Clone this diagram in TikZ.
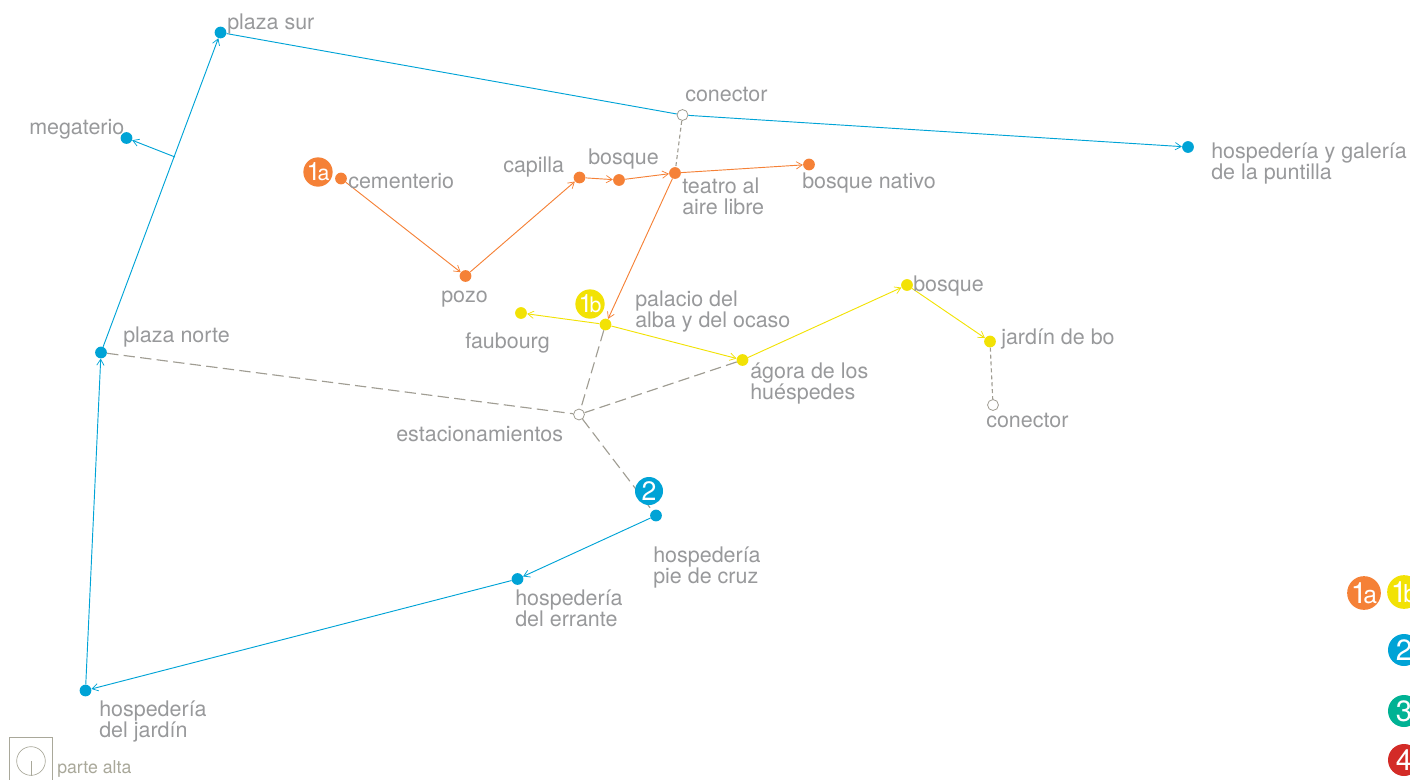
\documentclass[tikz,border=0pt]{standalone}
\usepackage{fontspec}
\setmainfont{TeX Gyre Heros}
\usetikzlibrary{arrows.meta}
\definecolor{cblue}{HTML}{00A3D6}
\definecolor{corange}{HTML}{F58137}
\definecolor{cyellow}{HTML}{F2E205}
\definecolor{cgreen}{HTML}{00B294}
\definecolor{cred}{HTML}{D32B27}
\definecolor{ctext}{HTML}{98999B}
\definecolor{cdash}{HTML}{A09D93}
\definecolor{cbase}{HTML}{A9A89A}
\newcommand{\onea}[2]{{\fontsize{#1}{#1}\selectfont 1}\kern-0.13em{\fontsize{#2}{#2}\selectfont a}}
\newcommand{\oneb}[2]{{\fontsize{#1}{#1}\selectfont 1}\kern-0.13em{\fontsize{#2}{#2}\selectfont b}}
\tikzset{
 x=0.75pt,y=-0.75pt,
 dot/.style={circle,fill=#1,draw=none,minimum size=8.8pt,inner sep=0pt},
 opendot/.style={circle,fill=white,draw=cdash,line width=0.6pt,minimum size=8.2pt,inner sep=0pt},
 lab/.style={anchor=base west,inner sep=0pt,text=ctext,font=\fontsize{16.1pt}{15.7pt}\selectfont},
 lab2/.style={lab,align=left},
 badge/.style={circle,fill=#1,draw=none,minimum size=21pt,inner sep=0pt,text=white,font=\fontsize{17pt}{17pt}\selectfont},
 bigbadge/.style={circle,fill=#1,draw=none,minimum size=24pt,inner sep=0pt,text=white,font=\fontsize{22pt}{22pt}\selectfont},
 conn/.style={draw=#1,line width=0.7pt},
 arr/.style={conn=#1,-{Straight Barb[length=4.5pt,width=5.5pt,line width=0.55pt]}},
 dashedconn/.style={draw=cdash,line width=0.85pt,dash pattern=on 8.5pt off 4pt},
 dottedconn/.style={draw=cdash,line width=0.85pt,dash pattern=on 3pt off 2.2pt},
}
\begin{document}
\begin{tikzpicture}
\useasboundingbox (0,0) rectangle (1410,779);
\clip (0,0) rectangle (1410,779);
% blue dots
\node[dot=cblue] (psur) at (220.5,32.5) {};
\node[dot=cblue] (mega) at (126.5,138) {};
\node[dot=cblue] (pnorte) at (101,352.5) {};
\node[dot=cblue] (hjardin) at (85.5,690.5) {};
\node[dot=cblue] (herrante) at (517.5,579) {};
\node[dot=cblue] (hcruz) at (656,515.5) {};
\node[dot=cblue] (hgaleria) at (1188,147) {};
% orange dots
\node[dot=corange] (cem) at (341,178.5) {};
\node[dot=corange] (pozo) at (465.5,276) {};
\node[dot=corange] (capilla) at (579.5,177.5) {};
\node[dot=corange] (bosqueo) at (619,180) {};
\node[dot=corange] (teatro) at (675,173) {};
\node[dot=corange] (bnativo) at (809,164.5) {};
% yellow dots
\node[dot=cyellow] (faub) at (521,313) {};
\node[dot=cyellow] (palacio) at (605.5,324.5) {};
\node[dot=cyellow] (agora) at (742.5,360) {};
\node[dot=cyellow] (bosquey) at (907,285) {};
\node[dot=cyellow] (jardinb) at (990,341.5) {};
% open dots
\node[opendot] (con) at (682.5,115) {};
\node[opendot] (conb) at (993,405) {};
\node[opendot] (est) at (579,414.5) {};
\coordinate (branch) at (175,157);
% dashed connectors
\draw[dottedconn] (con) -- (teatro);
\draw[dashedconn] (pnorte) -- (est);
\draw[dashedconn] (palacio) -- (est);
\draw[dashedconn] (agora) -- (est);
\draw[dashedconn] (est) -- (hcruz);
\draw[dottedconn] (jardinb) -- (conb);
% blue connectors
\draw[arr=cblue] (pnorte) -- (psur);
\draw[arr=cblue] (hjardin) -- (pnorte);
\draw[arr=cblue] (herrante) -- (hjardin);
\draw[arr=cblue] (hcruz) -- (herrante);
\draw[conn=cblue] (psur) -- (con);
\draw[arr=cblue] (con) -- (hgaleria);
\draw[arr=cblue] (branch) -- (mega);
% orange connectors
\draw[arr=corange] (cem) -- (pozo);
\draw[arr=corange] (pozo) -- (capilla);
\draw[arr=corange] (capilla) -- (bosqueo);
\draw[arr=corange] (bosqueo) -- (teatro);
\draw[arr=corange] (teatro) -- (bnativo);
\draw[arr=corange] (teatro) -- (palacio);
% yellow connectors
\draw[arr=cyellow] (palacio) -- (faub);
\draw[arr=cyellow] (palacio) -- (agora);
\draw[arr=cyellow] (agora) -- (bosquey);
\draw[arr=cyellow] (bosquey) -- (jardinb);
% badges
\node[badge=corange] (b1a) at (318,172) {\onea{19pt}{16pt}};
\node[badge=cyellow] (b1b) at (590,304) {\oneb{19pt}{16pt}};
\node[badge=cblue] (b2) at (649,491) {\fontsize{20pt}{20pt}\selectfont 2};
% labels
\node[lab] (lpsur) at (227,29) {plaza sur};
\node[lab] (lmega) at (29,134) {megaterio};
\node[lab] (lpnorte) at (123,342) {plaza norte};
\node[lab2] (lhjardin) at (99,737) {hospedería\\del jardín};
\node[lab2] (lherrante) at (515,626) {hospedería\\del errante};
\node[lab2] (lhcruz) at (653,583) {hospedería\\pie de cruz};
\node[lab2] (lhgaleria) at (1211,179) {hospedería y galería\\de la puntilla};
\node[lab] (lcon) at (685,101) {conector};
\node[lab] (lcem) at (348,188) {cementerio};
\node[lab] (lpozo) at (441,302) {pozo};
\node[lab] (lcapilla) at (503,172) {capilla};
\node[lab] (lbosqueo) at (588,164) {bosque};
\node[lab2] (lteatro) at (682,214) {teatro al\\aire libre};
\node[lab] (lbnativo) at (802,188) {bosque nativo};
\node[lab] (lfaub) at (465,348) {faubourg};
\node[lab2] (lpalacio) at (635,327) {palacio del\\alba y del ocaso};
\node[lab2] (lagora) at (750,399) {ágora de los\\huéspedes};
\node[lab] (lbosquey) at (913,291) {bosque};
\node[lab] (ljardinb) at (1001,344) {jardín de bo};
\node[lab] (lconb) at (986,427) {conector};
\node[lab] (lest) at (396,441) {estacionamientos};
% legend
\node[bigbadge=corange] (k1a) at (1364,593) {\onea{22pt}{18.5pt}};
\node[bigbadge=cyellow] (k1b) at (1404,592) {\oneb{22pt}{18.5pt}};
\node[bigbadge=cblue] (k2) at (1404,650) {2};
\node[bigbadge=cgreen] (k3) at (1404,711) {3};
\node[bigbadge=cred] (k4) at (1404,760) {4};
% parte alta
\node[draw=cbase,line width=0.5pt,minimum size=32pt,inner sep=0pt] (pbox) at (31,759) {};
\node[circle,draw=cbase,line width=0.5pt,minimum size=21.5pt,inner sep=0pt] (pcirc) at (31,761) {};
\draw[draw=cbase,line width=0.5pt] (pcirc.center) -- (pcirc.south);
\node[anchor=base west,inner sep=0pt,text=cbase,font=\fontsize{13.3pt}{13.3pt}\selectfont] (lparte) at (57,773) {parte alta};
\end{tikzpicture}
\end{document}
